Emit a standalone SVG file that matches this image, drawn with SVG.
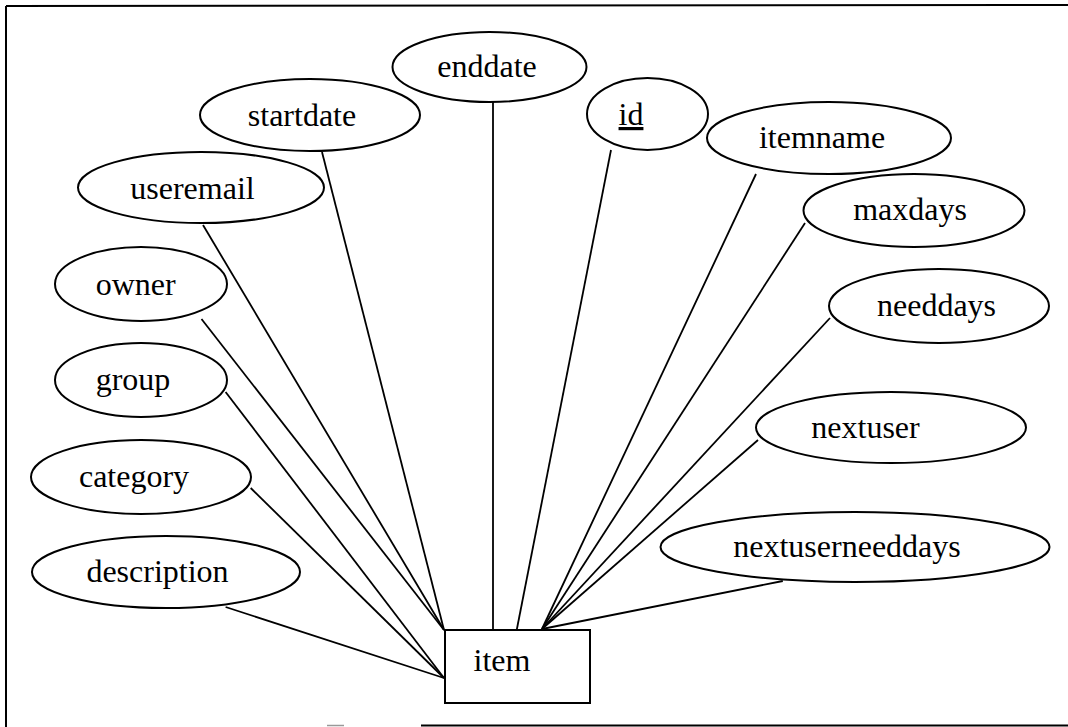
<svg xmlns="http://www.w3.org/2000/svg" width="1068" height="727" viewBox="0 0 1068 727">
  <style>
    .attr { fill: #ffffff; stroke: #000000; stroke-width: 2; }
    .ent { fill: #ffffff; stroke: #000000; stroke-width: 2; }
    .lbl { font-family: "Liberation Serif", "Times New Roman", serif; font-size: 32px; fill: #000000; text-anchor: middle; }
    .edge { stroke: #000000; stroke-width: 1.8; fill: none; }
    .frame { stroke: #000000; stroke-width: 2; fill: none; }
  </style>
  <rect x="0" y="0" width="1068" height="727" fill="#ffffff"/>

  <!-- outer frame -->
  <g id="frame">
    <line class="frame" x1="6" y1="6" x2="1068" y2="5"/>
    <line class="frame" x1="6" y1="6" x2="6" y2="727"/>
    <line class="frame" x1="421" y1="725.5" x2="1068" y2="725.5"/>
    <line x1="327" y1="725.5" x2="344" y2="725.5" stroke="#999999" stroke-width="1.5"/>
  </g>

  <!-- attribute links -->
  <g id="connectors">
    <line class="edge" x1="493" y1="102" x2="493" y2="630"/>
    <line class="edge" x1="322" y1="152" x2="444" y2="630"/>
    <line class="edge" x1="203" y1="225" x2="444" y2="630"/>
    <line class="edge" x1="201.5" y1="319" x2="444" y2="630"/>
    <line class="edge" x1="225.6" y1="392" x2="444" y2="678"/>
    <line class="edge" x1="250.7" y1="488" x2="444" y2="678"/>
    <line class="edge" x1="225.6" y1="607" x2="444" y2="678"/>
    <line class="edge" x1="611" y1="150" x2="516.7" y2="630"/>
    <line class="edge" x1="756" y1="174" x2="542" y2="629"/>
    <line class="edge" x1="805" y1="223" x2="542" y2="629"/>
    <line class="edge" x1="830" y1="318" x2="542" y2="629"/>
    <line class="edge" x1="758" y1="440" x2="542" y2="629"/>
    <line class="edge" x1="782.8" y1="581" x2="542" y2="629"/>
  </g>

  <g id="item">
    <rect class="ent" x="445" y="630" width="145" height="73"/>
    <text class="lbl" x="502" y="671">item</text>
  </g>

  <g id="enddate">
    <ellipse class="attr" cx="489.5" cy="67" rx="97" ry="35"/>
    <text class="lbl" x="487" y="77">enddate</text>
  </g>
  <g id="startdate">
    <ellipse class="attr" cx="310" cy="115" rx="110" ry="36"/>
    <text class="lbl" x="302" y="126">startdate</text>
  </g>
  <g id="useremail">
    <ellipse class="attr" cx="201" cy="187.5" rx="123" ry="35.5"/>
    <text class="lbl" x="192.5" y="199">useremail</text>
  </g>
  <g id="owner">
    <ellipse class="attr" cx="141" cy="284" rx="86" ry="37"/>
    <text class="lbl" x="135.7" y="295">owner</text>
  </g>
  <g id="group">
    <ellipse class="attr" cx="141" cy="380" rx="86" ry="37"/>
    <text class="lbl" x="133" y="390">group</text>
  </g>
  <g id="category">
    <ellipse class="attr" cx="141" cy="477" rx="110" ry="37"/>
    <text class="lbl" x="134" y="487">category</text>
  </g>
  <g id="description">
    <ellipse class="attr" cx="166" cy="572" rx="134" ry="36"/>
    <text class="lbl" x="157.5" y="582">description</text>
  </g>
  <g id="id">
    <ellipse class="attr" cx="647.5" cy="114" rx="60.5" ry="36"/>
    <text class="lbl" x="631" y="125" text-decoration="underline">id</text>
  </g>
  <g id="itemname">
    <ellipse class="attr" cx="829" cy="138" rx="122" ry="36"/>
    <text class="lbl" x="822" y="148">itemname</text>
  </g>
  <g id="maxdays">
    <ellipse class="attr" cx="914" cy="210.5" rx="110.5" ry="36.5"/>
    <text class="lbl" x="910" y="220">maxdays</text>
  </g>
  <g id="needdays">
    <ellipse class="attr" cx="939" cy="306" rx="110" ry="37"/>
    <text class="lbl" x="936.5" y="316">needdays</text>
  </g>
  <g id="nextuser">
    <ellipse class="attr" cx="891" cy="427.5" rx="135" ry="35.5"/>
    <text class="lbl" x="865.5" y="438">nextuser</text>
  </g>
  <g id="nextuserneeddays">
    <ellipse class="attr" cx="855" cy="547" rx="194.5" ry="35"/>
    <text class="lbl" x="847" y="557">nextuserneeddays</text>
  </g>
</svg>
